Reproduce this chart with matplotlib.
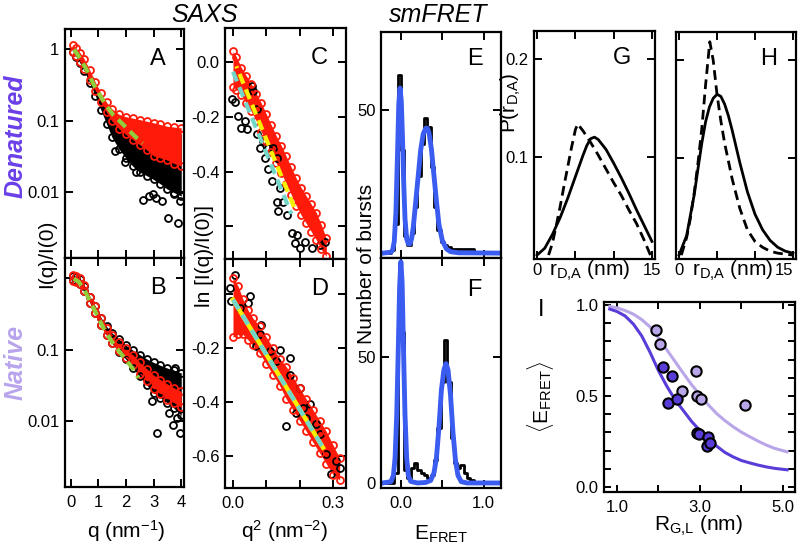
import numpy as np
import matplotlib.pyplot as plt

plt.rcParams['font.family'] = ['Liberation Sans', 'DejaVu Sans']
plt.rcParams['mathtext.fontset'] = 'custom'
plt.rcParams['mathtext.rm'] = 'Liberation Sans'
plt.rcParams['mathtext.it'] = 'Liberation Sans:italic'
plt.rcParams['mathtext.bf'] = 'Liberation Sans:bold'

RED = '#ff1a0a'
GREEN = '#8fcf3c'
YELLOW = '#f8f000'
CYAN = '#72d6c9'
BLUE = '#3a5cf0'
DARK = '#5a3dd8'
LIGHT = '#b9a6e8'

# ---- SAXS intensity curves (A denatured, B native)
qa = [0.10, 0.20, 0.35, 0.50, 0.70, 0.90, 1.10, 1.30, 1.50, 1.75, 2.00, 2.25, 2.50, 2.75, 3.00, 3.25, 3.50, 3.75, 4.00]
red_hi_a = [1.12, 1.02, 0.88, 0.72, 0.50, 0.34, 0.24, 0.18, 0.145, 0.122, 0.113, 0.108, 0.103, 0.098, 0.093, 0.088, 0.083, 0.081, 0.079]
red_lo_a = [0.92, 0.80, 0.66, 0.52, 0.37, 0.26, 0.18, 0.13, 0.098, 0.077, 0.064, 0.054, 0.046, 0.039, 0.032, 0.030, 0.028, 0.025, 0.023]
blk_hi_a = [1.05, 0.95, 0.80, 0.65, 0.45, 0.31, 0.21, 0.155, 0.12, 0.095, 0.082, 0.075, 0.070, 0.067, 0.064, 0.062, 0.062, 0.062, 0.065]
blk_lo_a = [0.90, 0.78, 0.63, 0.49, 0.33, 0.22, 0.14, 0.09, 0.058, 0.040, 0.030, 0.023, 0.019, 0.017, 0.015, 0.013, 0.011, 0.0098, 0.0088]
out_q_a = [1.62, 1.95, 2.35, 2.62, 2.85, 2.98, 3.08, 3.30, 3.52, 3.88, 3.97, 3.75]
out_i_a = [0.037, 0.026, 0.019, 0.0078, 0.0088, 0.0095, 0.0082, 0.0075, 0.0043, 0.0037, 0.0075, 0.0095]
fit_q_a = [0.12, 0.20, 0.40, 0.57, 0.87, 1.05, 1.30, 1.54, 1.78, 2.02, 2.33, 2.60]
fit_i_a = [0.98, 0.90, 0.68, 0.52, 0.30, 0.23, 0.16, 0.12, 0.098, 0.079, 0.060, 0.048]

qb = [0.08, 0.20, 0.35, 0.50, 0.70, 0.90, 1.10, 1.30, 1.50, 1.75, 2.00, 2.25, 2.50, 2.75, 3.00, 3.25, 3.50, 3.75, 4.00]
red_hi_b = [1.09, 1.06, 0.99, 0.79, 0.55, 0.40, 0.275, 0.20, 0.16, 0.127, 0.105, 0.085, 0.066, 0.054, 0.044, 0.038, 0.033, 0.029, 0.026]
red_lo_b = [0.92, 0.89, 0.82, 0.66, 0.45, 0.32, 0.22, 0.158, 0.123, 0.095, 0.077, 0.061, 0.046, 0.036, 0.028, 0.024, 0.020, 0.018, 0.0155]
blk_hi_b = [1.07, 1.04, 0.97, 0.78, 0.55, 0.40, 0.28, 0.21, 0.17, 0.14, 0.115, 0.098, 0.085, 0.074, 0.066, 0.060, 0.055, 0.051, 0.047]
blk_lo_b = [0.93, 0.90, 0.83, 0.66, 0.45, 0.32, 0.22, 0.158, 0.122, 0.093, 0.073, 0.056, 0.042, 0.032, 0.025, 0.021, 0.018, 0.015, 0.012]
out_q_b = [3.12, 3.72, 3.96, 3.85, 3.55, 3.78, 2.95]
out_i_b = [0.0069, 0.0089, 0.0069, 0.011, 0.013, 0.056, 0.019]
fit_q_b = [0.12, 0.30, 0.50, 0.75, 1.00, 1.25, 1.50, 1.75, 2.00, 2.25, 2.45]
fit_i_b = [0.98, 0.88, 0.68, 0.44, 0.28, 0.18, 0.128, 0.095, 0.072, 0.054, 0.040]

# ---- Guinier plots (C denatured, D native)
qc = [0.000, 0.010, 0.025, 0.040, 0.055, 0.070, 0.085, 0.100, 0.115, 0.130, 0.145, 0.160, 0.175, 0.190, 0.205, 0.220, 0.235, 0.250, 0.265, 0.280]
red_hi_c = [0.04, 0.02, -0.02, -0.05, -0.08, -0.115, -0.15, -0.19, -0.23, -0.27, -0.305, -0.345, -0.385, -0.425, -0.46, -0.49, -0.52, -0.55, -0.595, -0.645]
red_lo_c = [-0.09, -0.10, -0.12, -0.15, -0.18, -0.215, -0.255, -0.29, -0.33, -0.37, -0.405, -0.445, -0.485, -0.525, -0.56, -0.59, -0.62, -0.65, -0.685, -0.71]
blk_x_c = [-0.004, 0.006, 0.016, 0.024, 0.036, 0.041, 0.056, 0.060, 0.071, 0.071, 0.081, 0.091, 0.096, 0.106, 0.106, 0.116, 0.121, 0.131, 0.131, 0.136, 0.141, 0.151, 0.161, 0.176, 0.186, 0.191, 0.201, 0.216, 0.236, 0.261, 0.276]
blk_y_c = [-0.135, -0.147, -0.196, -0.239, -0.215, -0.245, -0.086, -0.105, -0.172, -0.264, -0.313, -0.288, -0.35, -0.313, -0.39, -0.436, -0.313, -0.35, -0.51, -0.546, -0.46, -0.51, -0.558, -0.626, -0.663, -0.632, -0.681, -0.656, -0.681, -0.669, -0.656]
yel_x_c, yel_y_c = [0.010, 0.190], [-0.015, -0.550]
cyan_x_c, cyan_y_c = [0.000, 0.175], [-0.035, -0.555]

qd = [0.000, 0.015, 0.030, 0.045, 0.060, 0.080, 0.100, 0.120, 0.140, 0.160, 0.180, 0.200, 0.220, 0.240, 0.260, 0.280, 0.300, 0.320]
red_hi_d = [0.06, 0.03, -0.02, -0.06, -0.09, -0.12, -0.16, -0.20, -0.24, -0.27, -0.31, -0.35, -0.39, -0.43, -0.47, -0.51, -0.56, -0.61]
red_lo_d = [-0.16, -0.15, -0.15, -0.17, -0.19, -0.22, -0.26, -0.30, -0.34, -0.39, -0.43, -0.47, -0.51, -0.55, -0.59, -0.63, -0.67, -0.69]
blk_x_d = [-0.010, -0.005, 0.005, 0.020, 0.045, 0.050, 0.070, 0.080, 0.085, 0.110, 0.130, 0.140, 0.170, 0.170, 0.160, 0.190, 0.200, 0.210, 0.220, 0.230, 0.250, 0.260, 0.280, 0.295, 0.310, 0.320]
blk_y_d = [0.022, -0.027, 0.072, -0.052, -0.033, -0.009, -0.194, -0.15, -0.114, -0.212, -0.249, -0.206, -0.237, -0.30, -0.49, -0.44, -0.348, -0.422, -0.46, -0.41, -0.484, -0.521, -0.595, -0.669, -0.62, -0.644]
fit_x_d, fit_y_d = [0.000, 0.270], [-0.021, -0.570]

# ---- smFRET histograms (E denatured, F native)
bins = [-0.22, -0.18, -0.14, -0.10, -0.06, -0.02, 0.02, 0.06, 0.10, 0.14, 0.18, 0.22, 0.26, 0.30, 0.34, 0.38, 0.42, 0.46, 0.50, 0.54, 0.58, 0.62, 0.66, 0.70, 0.74, 0.78, 0.82, 0.86, 0.90, 0.94, 1.22]
hist_e = [0, 0, 0, 1, 10, 62, 36, 6, 3, 7, 16, 27, 38, 47, 44, 30, 16, 8, 4, 3, 2, 1.5, 1.5, 1.5, 1.5, 1.5, 1.5, 1.5, 0, 0, 0]
hist_f = [0, 0, 0, 0, 4, 62, 60, 5, 2, 6, 8, 5, 4, 3, 2, 3, 9, 22, 40, 57, 40, 18, 8, 6, 7, 4, 2, 1, 0, 0, 0]
fit_x_e = [-0.22, -0.12, -0.10, -0.08, -0.06, -0.04, -0.025, -0.01, 0.005, 0.02, 0.035, 0.05, 0.07, 0.09, 0.11, 0.13, 0.15, 0.18, 0.21, 0.24, 0.27, 0.30, 0.32, 0.34, 0.37, 0.40, 0.43, 0.46, 0.50, 0.55, 0.60, 0.70, 1.22]
fit_y_e = [0.0, 0.3, 1, 4, 14, 35, 52, 57.5, 53, 40, 24, 12, 5, 3.2, 3.2, 5, 9, 18, 27, 36, 41.5, 43.5, 43.5, 42, 36, 27, 18, 10, 4.5, 1.5, 0.5, 0.1, 0]
fit_x_f = [-0.22, -0.12, -0.09, -0.07, -0.05, -0.03, -0.015, 0.0, 0.015, 0.03, 0.05, 0.07, 0.09, 0.12, 0.20, 0.30, 0.36, 0.40, 0.43, 0.46, 0.49, 0.52, 0.545, 0.57, 0.60, 0.63, 0.66, 0.69, 0.73, 0.80, 1.22]
fit_y_f = [0, 0.5, 3, 10, 27, 55, 78, 88, 80, 56, 27, 10, 3, 0.6, 0, 0.2, 1, 4, 10, 22, 37, 45, 47.5, 45, 35, 20, 9, 3, 0.5, 0, 0]

# ---- distance distributions (G denatured, H native)
g_sol_x = [0, 1, 2, 3, 4, 5, 5.5, 6, 6.5, 7, 7.5, 8, 9, 10, 11, 12, 13, 14, 15]
g_sol_y = [0.0, 0.007, 0.021, 0.038, 0.058, 0.080, 0.091, 0.102, 0.112, 0.119, 0.1205, 0.118, 0.108, 0.094, 0.079, 0.063, 0.046, 0.030, 0.014]
g_das_x = [1.5, 2.0, 2.5, 3.0, 3.5, 4.0, 4.5, 5.0, 5.3, 6.0, 7.0, 8.0, 9.0, 10.0, 11.0, 12.0, 13.0, 14.0, 14.8]
g_das_y = [0.0, 0.012, 0.030, 0.049, 0.070, 0.090, 0.110, 0.128, 0.134, 0.127, 0.115, 0.102, 0.088, 0.074, 0.061, 0.046, 0.032, 0.015, 0.0]
h_sol_x = [0, 1, 2, 2.5, 3, 3.5, 4, 4.5, 5, 5.5, 6, 6.5, 7, 8, 9, 10, 11, 12, 13, 14, 15]
h_sol_y = [0.0, 0.020, 0.062, 0.089, 0.115, 0.137, 0.152, 0.161, 0.165, 0.163, 0.155, 0.143, 0.128, 0.095, 0.065, 0.042, 0.026, 0.015, 0.008, 0.004, 0.002]
h_das_x = [0.3, 1.0, 1.5, 2.0, 2.5, 3.0, 3.5, 4.05, 4.5, 5.0, 5.5, 6.0, 7.0, 8.0, 9.0, 10.0, 11.0, 12.0, 13.0, 15.0]
h_das_y = [0.0, 0.018, 0.038, 0.064, 0.095, 0.130, 0.175, 0.219, 0.200, 0.165, 0.138, 0.115, 0.078, 0.048, 0.026, 0.014, 0.008, 0.004, 0.002, 0.0]

# ---- <E_FRET> vs R_G,L (I)
nat_rg = [1.94, 2.04, 2.56, 2.90, 2.93, 3.02, 4.08]
nat_e = [0.864, 0.787, 0.529, 0.640, 0.500, 0.482, 0.450]
den_rg = [2.12, 2.33, 2.24, 2.44, 2.94, 2.97, 3.20, 3.16, 3.24]
den_e = [0.660, 0.612, 0.460, 0.482, 0.294, 0.290, 0.276, 0.224, 0.243]
curve_rg = [0.83, 1.0, 1.2, 1.4, 1.6, 1.8, 2.0, 2.2, 2.4, 2.6, 2.8, 3.0, 3.2, 3.4, 3.6, 3.8, 4.0, 4.2, 4.4, 4.6, 4.8, 5.1]
curve_nat = [0.993, 0.985, 0.970, 0.950, 0.920, 0.880, 0.820, 0.755, 0.690, 0.625, 0.562, 0.506, 0.452, 0.404, 0.365, 0.331, 0.301, 0.276, 0.252, 0.230, 0.212, 0.193]
curve_den = [0.978, 0.965, 0.940, 0.895, 0.830, 0.740, 0.640, 0.555, 0.480, 0.420, 0.360, 0.310, 0.265, 0.225, 0.190, 0.165, 0.145, 0.132, 0.120, 0.110, 0.102, 0.094]

W, H = 800, 550
fig = plt.figure(figsize=(8, 5.5), dpi=100)


def box(x0, y0, x1, y1):
    ax = fig.add_axes([x0 / W, 1 - y1 / H, (x1 - x0) / W, (y1 - y0) / H])
    ax.tick_params(direction='in', top=True, right=True, length=6, width=1.4,
                   labelsize=12, pad=4)
    ax.tick_params(axis='x', pad=6)
    for s in ax.spines.values():
        s.set_linewidth(1.6)
    return ax


def txt(x, y, s, **kw):
    kw.setdefault('ha', 'center')
    kw.setdefault('va', 'center')
    fig.text(x / W, 1 - y / H, s, **kw)


ring = dict(ls='none', marker='o', mfc='none', ms=5, mew=1.3)

# A
axA = box(65, 29, 184, 258)
axA.set_yscale('log')
axA.fill_between(qa, blk_lo_a, blk_hi_a, color='k', lw=0)
axA.plot(qa, blk_lo_a, mec='k', **ring)
axA.plot(out_q_a, out_i_a, mec='k', **ring)
axA.fill_between(qa, red_lo_a, red_hi_a, color=RED, lw=0)
axA.plot(qa, red_hi_a, mec=RED, **ring)
axA.plot(qa, red_lo_a, mec=RED, **ring)
axA.plot(fit_q_a, fit_i_a, color=GREEN, lw=3, ls=(0, (2.5, 1.5)))
axA.set_xlim(-0.2, 4.1)
axA.set_ylim(0.0012, 1.9)
axA.set_xticks([0, 1, 2, 3, 4], ['', '', '', '', ''])
axA.set_yticks([0.01, 0.1, 1], ['0.01', '0.1', '1'])
axA.minorticks_off()
axA.text(0.78, 0.87, 'A', transform=axA.transAxes, fontsize=17, ha='center', va='center')

# B
axB = box(65, 258, 184, 487)
axB.set_yscale('log')
axB.fill_between(qb, blk_lo_b, blk_hi_b, color='k', lw=0)
axB.plot(qb, blk_hi_b, mec='k', **ring)
axB.plot(qb, blk_lo_b, mec='k', **ring)
axB.plot(out_q_b, out_i_b, mec='k', **ring)
axB.fill_between(qb, red_lo_b, red_hi_b, color=RED, lw=0)
axB.plot(qb, red_hi_b, mec=RED, **ring)
axB.plot(qb, red_lo_b, mec=RED, **ring)
axB.plot(fit_q_b, fit_i_b, color=GREEN, lw=3, ls=(0, (2.5, 1.5)))
axB.set_xlim(-0.2, 4.1)
axB.set_ylim(0.0012, 1.9)
axB.set_xticks([0, 1, 2, 3, 4])
axB.set_yticks([0.01, 0.1, 1], ['0.01', '0.1', ''])
axB.minorticks_off()
axB.text(0.78, 0.87, 'B', transform=axB.transAxes, fontsize=17, ha='center', va='center')

# C
axC = box(225, 28, 346, 259)
axC.plot(blk_x_c, blk_y_c, mec='k', **ring)
axC.fill_between(qc, red_lo_c, red_hi_c, color=RED, lw=0)
axC.plot(qc, red_hi_c, mec=RED, **ring)
axC.plot(qc, red_lo_c, mec=RED, **ring)
axC.plot(cyan_x_c, cyan_y_c, color=CYAN, lw=3, ls=(0, (2.5, 1.5)))
axC.plot(yel_x_c, yel_y_c, color=YELLOW, lw=3, ls=(2, (2.5, 1.5)))
axC.set_xlim(-0.024, 0.339)
axC.set_ylim(-0.72, 0.125)
axC.set_xticks([0, 0.1, 0.2, 0.3], ['', '', '', ''])
axC.set_yticks([0.0, -0.2, -0.4, -0.6], ['0.0', '-0.2', '-0.4', ''])
axC.text(0.78, 0.87, 'C', transform=axC.transAxes, fontsize=17, ha='center', va='center')

# D
axD = box(225, 259, 346, 488)
axD.plot(blk_x_d, blk_y_d, mec='k', **ring)
axD.fill_between(qd, red_lo_d, red_hi_d, color=RED, lw=0)
axD.plot(qd, red_hi_d, mec=RED, **ring)
axD.plot(qd, red_lo_d, mec=RED, **ring)
axD.plot(fit_x_d, fit_y_d, color=YELLOW, lw=3.2)
axD.plot(fit_x_d, fit_y_d, color=CYAN, lw=3.2, ls=(0, (2.5, 1.5)))
axD.set_xlim(-0.024, 0.339)
axD.set_ylim(-0.72, 0.13)
axD.set_xticks([0, 0.1, 0.2, 0.3], ['0.0', '', '', '0.3'])
axD.set_yticks([0.0, -0.2, -0.4, -0.6], ['', '-0.2', '-0.4', '-0.6'])
axD.text(0.78, 0.87, 'D', transform=axD.transAxes, fontsize=17, ha='center', va='center')

# E
axE = box(381, 32, 501, 258)
axE.step(bins, hist_e, where='mid', color='k', lw=2)
axE.plot(fit_x_e, fit_y_e, color=BLUE, lw=3.5)
axE.set_xlim(-0.24, 1.21)
axE.set_ylim(-1.7, 77)
axE.set_xticks([0, 0.5, 1.0], ['', '', ''])
axE.set_yticks([50])
axE.text(0.78, 0.88, 'E', transform=axE.transAxes, fontsize=17, ha='center', va='center')

# F
axF = box(381, 258, 501, 488)
axF.step(bins, hist_f, where='mid', color='k', lw=2)
axF.plot(fit_x_f, fit_y_f, color=BLUE, lw=3.5)
axF.set_xlim(-0.24, 1.21)
axF.set_ylim(-2.0, 89.5)
axF.set_xticks([0, 0.5, 1.0], ['0.0', '', '1.0'])
axF.set_yticks([0, 50])
axF.text(0.78, 0.86, 'F', transform=axF.transAxes, fontsize=17, ha='center', va='center')

# G
axG = box(534, 31, 655, 259)
axG.plot(g_das_x, g_das_y, color='k', lw=2, ls=(0, (3.5, 2)))
axG.plot(g_sol_x, g_sol_y, color='k', lw=2)
axG.set_xlim(-0.4, 15.4)
axG.set_ylim(-0.004, 0.229)
axG.set_xticks([0, 5, 10, 15], ['0', '', '', '15'])
axG.set_yticks([0.1, 0.2], ['0.1', '0.2'])
axG.tick_params(axis='x', pad=3)
axG.text(0.73, 0.88, 'G', transform=axG.transAxes, fontsize=17, ha='center', va='center')

# H
axH = box(676, 32, 796, 259)
axH.plot(h_das_x, h_das_y, color='k', lw=2, ls=(0, (3.5, 2)))
axH.plot(h_sol_x, h_sol_y, color='k', lw=2)
axH.set_xlim(-0.4, 15.4)
axH.set_ylim(-0.004, 0.229)
axH.set_xticks([0, 5, 10, 15], ['0', '', '', '15'])
axH.get_xticklabels()[-1].set_ha('right')
axH.set_yticks([0.1, 0.2], ['', ''])
axH.tick_params(axis='x', pad=3)
axH.text(0.77, 0.88, 'H', transform=axH.transAxes, fontsize=17, ha='center', va='center')

# I
axI = box(604, 302, 795, 492)
axI.plot(curve_rg, curve_nat, color=LIGHT, lw=2.2)
axI.plot(curve_rg, curve_den, color=DARK, lw=2.2)
axI.scatter(nat_rg, nat_e, s=55, color=LIGHT, edgecolor='k', lw=1.5, zorder=3)
axI.scatter(den_rg, den_e, s=55, color=DARK, edgecolor='k', lw=1.5, zorder=3)
axI.set_xlim(0.69, 5.29)
axI.set_ylim(-0.028, 1.017)
axI.set_xticks([1, 2, 3, 4, 5], ['1.0', '', '3.0', '', '5.0'])
yt = [0.0, 0.1, 0.2, 0.3, 0.4, 0.5, 0.6, 0.7, 0.8, 0.9, 1.0]
axI.set_yticks(yt, ['0.0', '', '', '', '', '0.5', '', '', '', '', '1.0'])
axI.tick_params(length=5)

# figure texts
txt(205, 15, 'SAXS', fontsize=18, style='italic')
txt(438, 15, 'smFRET', fontsize=18, style='italic')
txt(16, 136, 'Denatured', fontsize=18, weight='bold', style='italic', color='#6a3fe8', rotation=90)
txt(16, 362, 'Native', fontsize=18, weight='bold', style='italic', color='#b8a4ec', rotation=90)
txt(47, 254, 'I(q)/I(0)', fontsize=15, rotation=90)
txt(205, 256, 'ln [I(q)/I(0)]', fontsize=15, rotation=90)
txt(366, 264, 'Number of bursts', fontsize=15, rotation=90)
txt(511, 103, r'P(r$_{\mathregular{D{,}A}}$)', fontsize=15, rotation=90)
txt(540, 397, r'$\langle$E$_{\mathregular{FRET}}$$\rangle$', fontsize=15, rotation=90)
txt(541, 310, 'I', fontsize=17)
txt(126, 538, r'q (nm$^{\mathregular{-1}}$)', fontsize=15, va='baseline')
txt(285, 538, r'q$^{\mathregular{2}}$ (nm$^{\mathregular{-2}}$)', fontsize=15, va='baseline')
txt(441, 540, r'E$_{\mathregular{FRET}}$', fontsize=15, va='baseline')
txt(698, 531, r'R$_{\mathregular{G{,}L}}$ (nm)', fontsize=15, va='baseline')
txt(590, 276, r'r$_{\mathregular{D{,}A}}$ (nm)', fontsize=15, va='baseline')
txt(733, 276, r'r$_{\mathregular{D{,}A}}$ (nm)', fontsize=15, va='baseline')

fig.savefig('out.png', dpi=100)
